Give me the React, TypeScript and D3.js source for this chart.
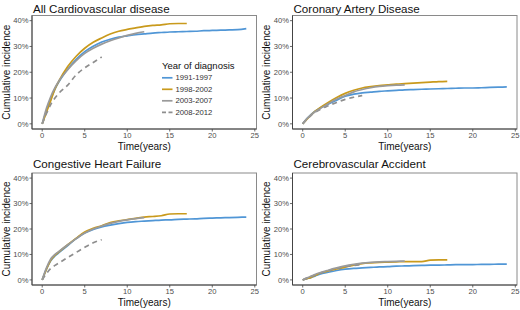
import React from "react";
import * as d3 from "d3";

const W = 520;
const H = 310;

const seriesNames = ["1991-1997", "1998-2002", "2003-2007", "2008-2012"];
const seriesColors = ["#5096d6", "#c99a1c", "#9a9a9a", "#8e8e8e"];
const seriesDash = [null, null, null, "5,4"];
const yTicks = [0, 0.1, 0.2, 0.3, 0.4];
const xTicks = [0, 5, 10, 15, 20, 25];

const timeFull = [0, 0.5, 1, 1.5, 2, 3, 4, 5, 6, 7, 8, 9, 10, 11, 12, 13, 14, 15, 16, 17, 18, 19, 20, 21, 22, 23, 24];

// All Cardiovascular disease
const cvdBlue = [0, 0.05, 0.095, 0.135, 0.165, 0.212, 0.25, 0.28, 0.301, 0.317, 0.328, 0.336, 0.341, 0.346, 0.349, 0.352, 0.354, 0.356, 0.357, 0.358, 0.359, 0.361, 0.362, 0.363, 0.364, 0.365, 0.369];
const cvdGold = [0, 0.045, 0.09, 0.135, 0.168, 0.222, 0.262, 0.293, 0.316, 0.333, 0.348, 0.359, 0.366, 0.372, 0.378, 0.382, 0.384, 0.388, 0.389, 0.389];
const cvdGray = [0, 0.06, 0.105, 0.14, 0.168, 0.21, 0.245, 0.273, 0.293, 0.309, 0.322, 0.333, 0.343, 0.351, 0.357];
const cvdDash = [0, 0.04, 0.075, 0.1, 0.12, 0.15, 0.19, 0.217, 0.238, 0.259];

// Coronary Artery Disease
const cadBlue = [0, 0.02, 0.037, 0.05, 0.06, 0.076, 0.092, 0.107, 0.115, 0.12, 0.123, 0.126, 0.128, 0.13, 0.132, 0.133, 0.134, 0.135, 0.136, 0.137, 0.138, 0.139, 0.139, 0.14, 0.141, 0.142, 0.143];
const cadGold = [0, 0.018, 0.035, 0.05, 0.062, 0.083, 0.102, 0.118, 0.13, 0.139, 0.144, 0.148, 0.151, 0.154, 0.156, 0.158, 0.16, 0.162, 0.164, 0.165];
const cadGray = [0, 0.02, 0.036, 0.048, 0.058, 0.078, 0.096, 0.11, 0.124, 0.133, 0.14, 0.145, 0.148, 0.15, 0.151];
const cadDash = [0, 0.018, 0.033, 0.045, 0.055, 0.07, 0.083, 0.095, 0.103, 0.11];

// Congestive Heart Failure
const chfBlue = [0, 0.042, 0.075, 0.094, 0.108, 0.135, 0.162, 0.184, 0.198, 0.208, 0.215, 0.221, 0.226, 0.229, 0.231, 0.233, 0.235, 0.236, 0.238, 0.239, 0.24, 0.242, 0.243, 0.244, 0.245, 0.246, 0.247];
const chfGold = [0, 0.042, 0.077, 0.097, 0.111, 0.138, 0.164, 0.188, 0.203, 0.213, 0.225, 0.232, 0.237, 0.242, 0.247, 0.249, 0.252, 0.259, 0.26, 0.26];
const chfGray = [0, 0.047, 0.082, 0.1, 0.113, 0.138, 0.162, 0.184, 0.2, 0.212, 0.222, 0.23, 0.236, 0.241, 0.245];
const chfDash = [0, 0.025, 0.045, 0.057, 0.067, 0.088, 0.108, 0.128, 0.146, 0.158];

// Cerebrovascular Accident
const cvaBlue = [0, 0.005, 0.01, 0.016, 0.022, 0.03, 0.037, 0.042, 0.045, 0.047, 0.049, 0.051, 0.052, 0.054, 0.055, 0.056, 0.057, 0.058, 0.058, 0.059, 0.06, 0.06, 0.06, 0.061, 0.061, 0.062, 0.062];
const cvaGold = [0, 0.005, 0.01, 0.018, 0.026, 0.035, 0.043, 0.05, 0.058, 0.064, 0.067, 0.069, 0.07, 0.071, 0.072, 0.072, 0.072, 0.078, 0.079, 0.079];
const cvaGray = [0, 0.008, 0.015, 0.022, 0.028, 0.038, 0.047, 0.055, 0.061, 0.066, 0.069, 0.071, 0.072, 0.073, 0.074];
const cvaDash = [0, 0.007, 0.013, 0.02, 0.026, 0.036, 0.045, 0.052, 0.057, 0.06];

const panelTitles = ["All Cardiovascular disease", "Coronary Artery Disease", "Congestive Heart Failure", "Cerebrovascular Accident"];
const panelData = [
  [cvdBlue, cvdGold, cvdGray, cvdDash],
  [cadBlue, cadGold, cadGray, cadDash],
  [chfBlue, chfGold, chfGray, chfDash],
  [cvaBlue, cvaGold, cvaGray, cvaDash],
];

const FONT = "'Liberation Sans', Arial, sans-serif";

const colLeft = [32, 292.5];
const panelW = 224.5;
const rowTop = [15.5, 173];
const rowBottom = [129, 285];

function Panel({ idx }: { idx: number }) {
  const col = idx % 2;
  const row = Math.floor(idx / 2);
  const left = colLeft[col];
  const right = left + panelW;
  const top = rowTop[row];
  const bottom = rowBottom[row];
  const x = d3.scaleLinear().domain([-1.2, 25.2]).range([left, right]);
  const y = d3.scaleLinear().domain([-0.02, 0.42]).range([bottom, top]);
  const line = d3
    .line<[number, number]>()
    .x((d) => x(d[0]))
    .y((d) => y(d[1]))
    .curve(d3.curveMonotoneX);
  const order = [0, 1, 3, 2];
  return (
    <g>
      <text x={left + 1} y={top - 2.5 - (row === 0 ? 0 : 3)} fontSize={11.6} fill="#111" fontFamily={FONT}>
        {panelTitles[idx]}
      </text>
      <rect x={left} y={top} width={panelW} height={bottom - top} fill="#fff" stroke="#8a8a8a" strokeWidth={1} />
      <line x1={left} x2={left} y1={top} y2={bottom} stroke="#444" strokeWidth={1} />
      <line x1={left} x2={right} y1={bottom} y2={bottom} stroke="#444" strokeWidth={1} />
      {yTicks.map((t) => (
        <g key={"y" + t}>
          <line x1={left - 2.5} x2={left} y1={y(t)} y2={y(t)} stroke="#444" strokeWidth={0.8} />
          <text x={left - 3.5} y={y(t)} dy="0.35em" textAnchor="end" fontSize={7.6} fill="#4d4d4d" fontFamily={FONT}>
            {d3.format(".0%")(t)}
          </text>
        </g>
      ))}
      {xTicks.map((t) => (
        <g key={"x" + t}>
          <line x1={x(t)} x2={x(t)} y1={bottom} y2={bottom + 2.5} stroke="#444" strokeWidth={0.8} />
          <text x={x(t)} y={bottom + 8.5} textAnchor="middle" fontSize={7.6} fill="#4d4d4d" fontFamily={FONT}>
            {t}
          </text>
        </g>
      ))}
      <text
        transform={`translate(${left - 22.5},${(top + bottom) / 2}) rotate(-90)`}
        textAnchor="middle"
        fontSize={10}
        fill="#111"
        fontFamily={FONT}
      >
        Cumulative incidence
      </text>
      <text x={(left + right) / 2} y={bottom + 20.5} textAnchor="middle" fontSize={10} fill="#111" fontFamily={FONT}>
        Time(years)
      </text>
      {order.map((s) => {
        const vals = panelData[idx][s];
        const pts: [number, number][] = vals.map((v, i) => [timeFull[i], v]);
        return (
          <path
            key={s}
            d={line(pts) || ""}
            fill="none"
            stroke={seriesColors[s]}
            strokeWidth={1.7}
            strokeDasharray={seriesDash[s] || undefined}
          />
        );
      })}
    </g>
  );
}

function Legend() {
  const lx = 162;
  const ty = 68.5;
  return (
    <g fontFamily={FONT}>
      <text x={lx} y={ty} fontSize={9.5} fill="#111">
        Year of diagnosis
      </text>
      {seriesNames.map((n, i) => {
        const cy = 77.8 + i * 11.5;
        return (
          <g key={n}>
            <line
              x1={lx}
              x2={lx + 10.5}
              y1={cy}
              y2={cy}
              stroke={seriesColors[i]}
              strokeWidth={1.7}
              strokeDasharray={seriesDash[i] ? "4,2.5" : undefined}
            />
            <text x={lx + 13.5} y={cy} dy="0.35em" fontSize={7.7} fill="#333">
              {n}
            </text>
          </g>
        );
      })}
    </g>
  );
}

export default function App() {
  return (
    <svg width={W} height={H} style={{ position: "absolute", left: 0, top: 0, background: "#fff" }}>
      <rect width={W} height={H} fill="#fff" />
      {[0, 1, 2, 3].map((i) => (
        <Panel key={i} idx={i} />
      ))}
      <Legend />
    </svg>
  );
}
